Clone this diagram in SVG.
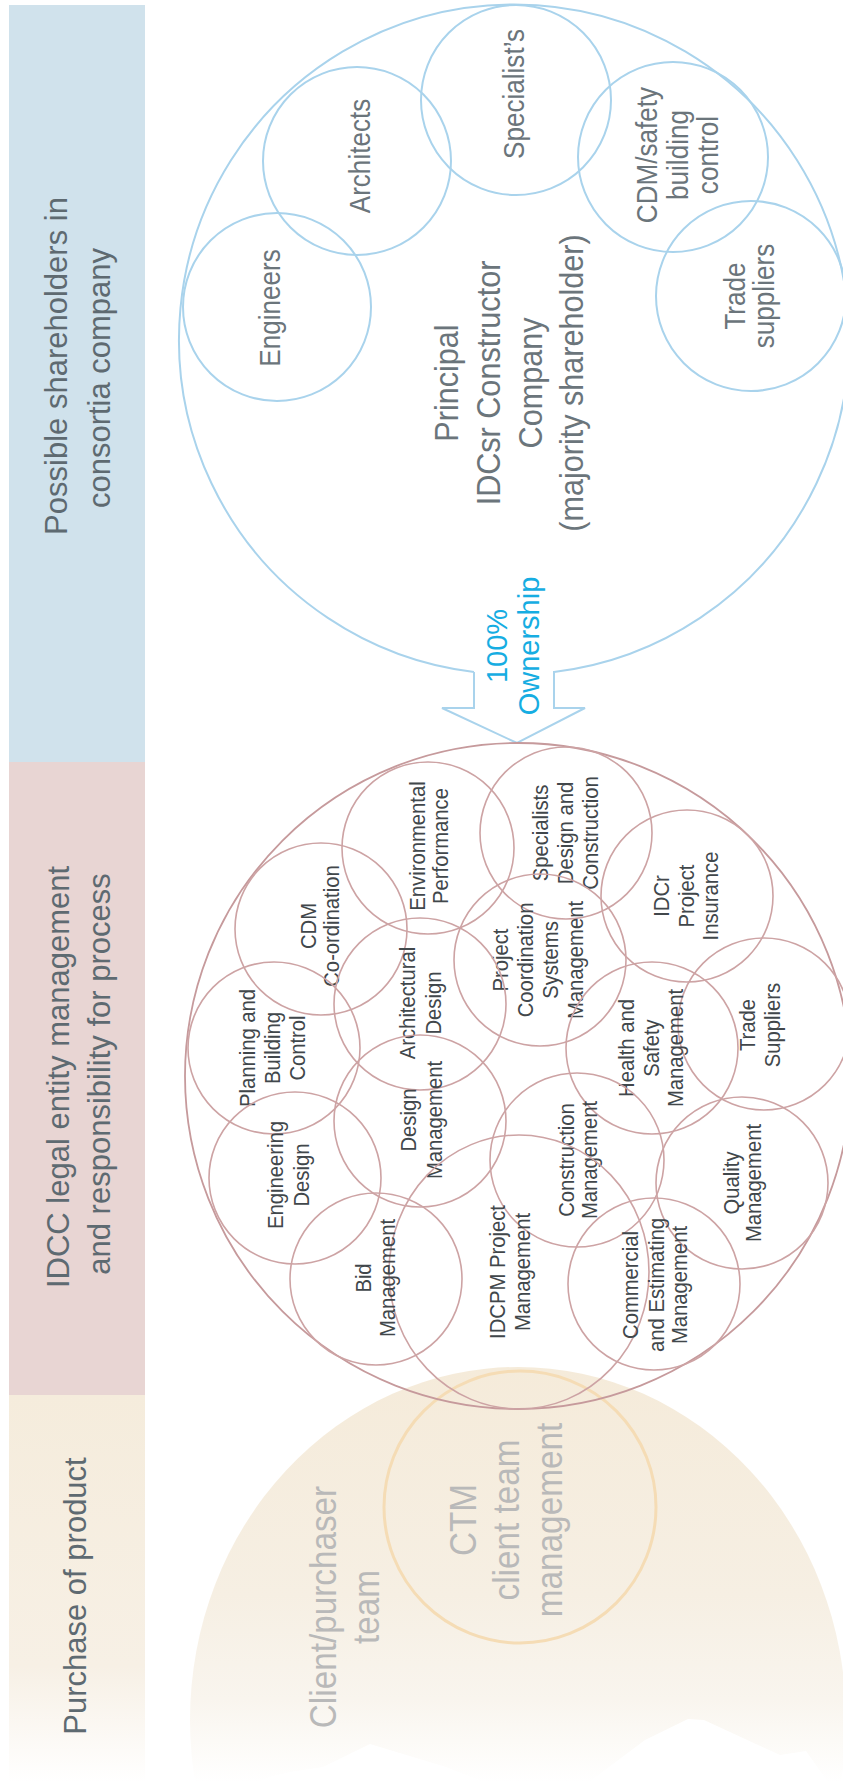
<svg xmlns="http://www.w3.org/2000/svg" width="843" height="1782" viewBox="0 0 843 1782">
<defs>
<linearGradient id="bandG" gradientUnits="userSpaceOnUse" x1="0" y1="1395" x2="0" y2="1782">
<stop offset="0" stop-color="#f5ecdc"/><stop offset="0.7" stop-color="#f7f0e5"/><stop offset="1" stop-color="#ffffff"/>
</linearGradient>
<linearGradient id="domeG" gradientUnits="userSpaceOnUse" x1="0" y1="1367" x2="0" y2="1782">
<stop offset="0" stop-color="#f5ebda"/><stop offset="0.55" stop-color="#f6efe3"/><stop offset="0.8" stop-color="#f9f5ee"/><stop offset="1" stop-color="#ffffff"/>
</linearGradient>
<style>
text{font-family:"Liberation Sans",Arial,sans-serif;text-anchor:middle}
.band{font-size:31px;fill:#5e6a71}
.bt{font-size:29px;fill:#6b757b}
.main{font-size:34px;fill:#6b757b}
.own{font-size:29px;fill:#16ade2}
.pt{font-size:22.5px;fill:#41474b}
.ct{font-size:37px;fill:#b9b9b9}
.bc{fill:none;stroke:#a9d3ec;stroke-width:2}
.pc{fill:none;stroke:#cda3a4;stroke-width:1.6}
</style>
</defs>

<g id="bands">
<rect x="9" y="5" width="136" height="757" fill="#d0e2ec"/>
<rect x="9" y="762" width="136" height="633" fill="#e8d5d3"/>
<rect x="9" y="1395" width="136" height="387" fill="url(#bandG)"/>
<text class="band" transform="translate(0,372) rotate(-90)"><tspan x="6" y="67">Possible shareholders in</tspan><tspan x="-6" y="110">consortia company</tspan></text>
<text class="band" transform="translate(0,1076) rotate(-90)"><tspan x="-1" y="69">IDCC legal entity management</tspan><tspan x="2" y="110">and responsibility for process</tspan></text>
<text class="band" transform="translate(0,1596) rotate(-90)"><tspan x="0" y="86">Purchase of product</tspan></text>
</g>

<g id="client">
<ellipse cx="518" cy="1720" rx="328" ry="353" fill="url(#domeG)"/>
<path d="M258 1782 L269 1777 L290 1772 L323 1767 L370 1744 L446 1767 L484 1782 Z" fill="#ffffff"/>
<path d="M589 1782 L645 1740 L688 1719 L704 1720 L780 1755 L806 1751 L828 1782 Z" fill="#ffffff"/>
<text class="ct" transform="translate(0,1607) rotate(-90) scale(0.9,1)"><tspan x="0" y="336">Client/purchaser</tspan><tspan x="0" y="379">team</tspan></text>
</g>

<g id="ctm">
<circle cx="520" cy="1507" r="136" fill="none" stroke="#f5dcb5" stroke-width="3"/>
<text class="ct" transform="translate(0,1520) rotate(-90) scale(0.9,1)"><tspan x="0" y="476">CTM</tspan><tspan x="0" y="519">client team</tspan><tspan x="0" y="562">management</tspan></text>
</g>

<g id="principal">
<path class="bc" d="M474 672 L474 708 L442 708 L517 743 L585 708 L554 708 L554 672 A335 335 0 1 0 474 672"/>
<text class="main" transform="translate(0,383) rotate(-90) scale(0.9,1)"><tspan x="0" y="458">Principal</tspan><tspan x="0" y="500">IDCsr Constructor</tspan><tspan x="0" y="542">Company</tspan><tspan x="0" y="583">(majority shareholder)</tspan></text>
<text class="own" transform="translate(0,646) rotate(-90)"><tspan x="0" y="507">100%</tspan><tspan x="0" y="539">Ownership</tspan></text>
</g>

<g id="engineers"><circle class="bc" cx="277" cy="307" r="94"/><text class="bt" transform="translate(0,308) rotate(-90) scale(0.9,1)"><tspan x="0" y="280">Engineers</tspan></text></g>
<g id="architects"><circle class="bc" cx="357" cy="161" r="94"/><text class="bt" transform="translate(0,156) rotate(-90) scale(0.9,1)"><tspan x="0" y="370">Architects</tspan></text></g>
<g id="specialists"><circle class="bc" cx="516" cy="100" r="95"/><text class="bt" transform="translate(0,94) rotate(-90) scale(0.9,1)"><tspan x="0" y="524">Specialist’s</tspan></text></g>
<g id="cdm-safety"><circle class="bc" cx="673" cy="157" r="95"/><text class="bt" transform="translate(0,155) rotate(-90) scale(0.9,1)"><tspan x="0" y="657">CDM/safety</tspan><tspan x="0" y="688">building</tspan><tspan x="0" y="718">control</tspan></text></g>
<g id="trade-suppliers-sh"><circle class="bc" cx="751" cy="296" r="95"/><text class="bt" transform="translate(0,296) rotate(-90) scale(0.9,1)"><tspan x="0" y="745">Trade</tspan><tspan x="0" y="774">suppliers</tspan></text></g>

<g id="idcc"><circle cx="518" cy="1076" r="333" fill="none" stroke="#c69a9c" stroke-width="1.8"/></g>

<g id="environmental"><circle class="pc" cx="428" cy="848" r="86"/><text class="pt" transform="translate(0,846) rotate(-90) scale(0.9,1)"><tspan x="0" y="425">Environmental</tspan><tspan x="0" y="448">Performance</tspan></text></g>
<g id="specialists-dc"><circle class="pc" cx="566" cy="833" r="86"/><text class="pt" transform="translate(0,833) rotate(-90) scale(0.9,1)"><tspan x="0" y="548">Specialists</tspan><tspan x="0" y="573">Design and</tspan><tspan x="0" y="598">Construction</tspan></text></g>
<g id="cdm-coord"><circle class="pc" cx="321" cy="929" r="86"/><text class="pt" transform="translate(0,926) rotate(-90) scale(0.9,1)"><tspan x="0" y="316">CDM</tspan><tspan x="0" y="339">Co-ordination</tspan></text></g>
<g id="insurance"><circle class="pc" cx="687" cy="896" r="86"/><text class="pt" transform="translate(0,896) rotate(-90) scale(0.9,1)"><tspan x="0" y="669">IDCr</tspan><tspan x="0" y="694">Project</tspan><tspan x="0" y="718">Insurance</tspan></text></g>
<g id="pcsm"><circle class="pc" cx="540" cy="960" r="86"/><text class="pt" transform="translate(0,960) rotate(-90) scale(0.9,1)"><tspan x="0" y="508">Project</tspan><tspan x="0" y="533">Coordination</tspan><tspan x="0" y="558">Systems</tspan><tspan x="0" y="583">Management</tspan></text></g>
<g id="architectural"><circle class="pc" cx="420" cy="1004" r="86"/><text class="pt" transform="translate(0,1003) rotate(-90) scale(0.9,1)"><tspan x="0" y="415">Architectural</tspan><tspan x="0" y="441">Design</tspan></text></g>
<g id="planning"><circle class="pc" cx="274" cy="1048" r="86"/><text class="pt" transform="translate(0,1048) rotate(-90) scale(0.9,1)"><tspan x="0" y="255">Planning and</tspan><tspan x="0" y="280">Building</tspan><tspan x="0" y="305">Control</tspan></text></g>
<g id="trade-suppliers"><circle class="pc" cx="764" cy="1024" r="86"/><text class="pt" transform="translate(0,1025) rotate(-90) scale(0.9,1)"><tspan x="0" y="755">Trade</tspan><tspan x="0" y="780">Suppliers</tspan></text></g>
<g id="health-safety"><circle class="pc" cx="652" cy="1048" r="86"/><text class="pt" transform="translate(0,1048) rotate(-90) scale(0.9,1)"><tspan x="0" y="634">Health and</tspan><tspan x="0" y="659">Safety</tspan><tspan x="0" y="683">Management</tspan></text></g>
<g id="design-mgmt"><circle class="pc" cx="420" cy="1121" r="86"/><text class="pt" transform="translate(0,1120) rotate(-90) scale(0.9,1)"><tspan x="0" y="416">Design</tspan><tspan x="0" y="442">Management</tspan></text></g>
<g id="construction"><circle class="pc" cx="577" cy="1160" r="87"/><text class="pt" transform="translate(0,1160) rotate(-90) scale(0.9,1)"><tspan x="0" y="574">Construction</tspan><tspan x="0" y="597">Management</tspan></text></g>
<g id="quality"><circle class="pc" cx="742" cy="1183" r="86"/><text class="pt" transform="translate(0,1183) rotate(-90) scale(0.9,1)"><tspan x="0" y="739">Quality</tspan><tspan x="0" y="761">Management</tspan></text></g>
<g id="engineering"><circle class="pc" cx="295" cy="1178" r="86"/><text class="pt" transform="translate(0,1175) rotate(-90) scale(0.9,1)"><tspan x="0" y="283">Engineering</tspan><tspan x="0" y="309">Design</tspan></text></g>
<g id="idcpm"><ellipse class="pc" cx="519" cy="1272" rx="130" ry="137"/><text class="pt" transform="translate(0,1272) rotate(-90) scale(0.9,1)"><tspan x="0" y="505">IDCPM Project</tspan><tspan x="0" y="530">Management</tspan></text></g>
<g id="bid"><circle class="pc" cx="376" cy="1279" r="86"/><text class="pt" transform="translate(0,1278) rotate(-90) scale(0.9,1)"><tspan x="0" y="371">Bid</tspan><tspan x="0" y="395">Management</tspan></text></g>
<g id="commercial"><circle class="pc" cx="654" cy="1284" r="86"/><text class="pt" transform="translate(0,1285) rotate(-90) scale(0.9,1)"><tspan x="0" y="638">Commercial</tspan><tspan x="0" y="664">and Estimating</tspan><tspan x="0" y="687">Management</tspan></text></g>

<g id="connectors"></g>
</svg>
